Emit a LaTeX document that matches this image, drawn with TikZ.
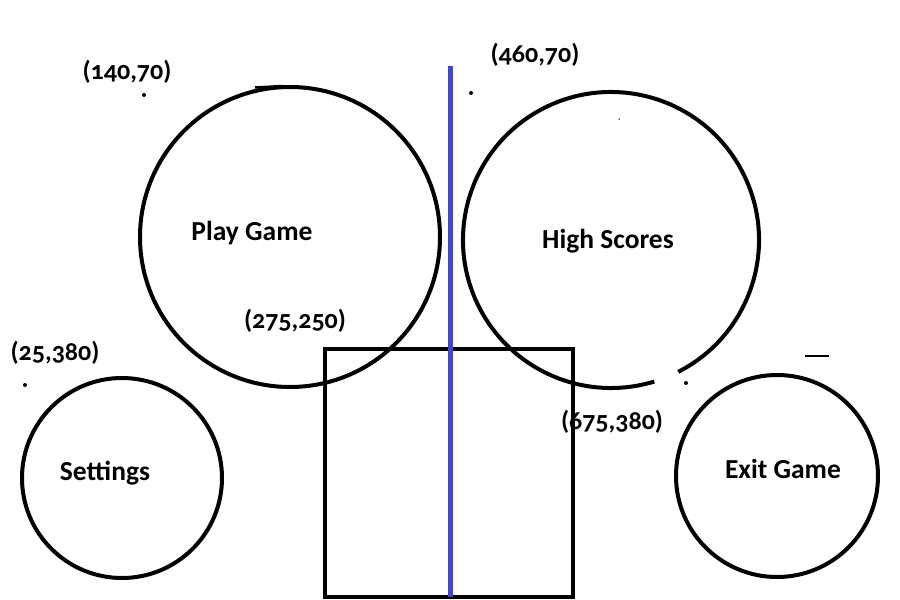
\documentclass[tikz,border=0pt]{standalone}
\usepackage{fontspec}
\setmainfont{Carlito}[Numbers=OldStyle]
\definecolor{penblue}{RGB}{65,72,205}
\begin{document}
\begin{tikzpicture}[x=1pt,y=-1pt,
  ring/.style={draw=black,line width=4pt,circle,inner sep=0pt},
  lbl/.style={font=\bfseries\fontsize{27.5}{30}\selectfont,inner sep=0pt},
  coordlbl/.style={font=\bfseries\fontsize{26}{28}\selectfont,inner sep=0pt},
  speck/.style={fill=black,circle,inner sep=0pt,minimum size=4pt}]
\useasboundingbox[fill=white] (0,0) rectangle (900,600);
% circles
\node[ring,minimum size=300pt] (play) at (290,237) {};
\draw[line width=2.5pt] (255,87.5) -- (283,86);
\draw[line width=4pt] (611,240) ++(-63:148pt) arc[start angle=-63,end angle=287,radius=148pt];
\coordinate (high) at (611,240);
\node[ring,minimum size=200pt] (set) at (122,478) {};
\node[ring,minimum size=202pt] (exit) at (777,476) {};
% square and blue line
\node[draw=black,line width=4.5pt,minimum width=248pt,minimum height=248pt,inner sep=0pt] (sq) at (449,473) {};
\coordinate (btop) at (450,66);
\coordinate (bbot) at (450,597);
\draw[penblue,line width=5pt] (btop) -- (bbot);
% labels
\node[lbl] (tplay) at (252,233) {Play Game};
\node[lbl] (thigh) at (608,241) {High Scores};
\node[lbl] (tset) at (105,473) {Settings};
\node[lbl] (texit) at (783,469) {Exit Game};
\node[coordlbl] (c1) at (127,72) {(140,70)};
\node[coordlbl] (c2) at (535,55) {(460,70)};
\node[coordlbl] (c3) at (55,353) {(25,380)};
\node[coordlbl] (c4) at (295,321) {(275,250)};
\node[coordlbl] (c5) at (612,422) {(675,380)};
% specks
\node[speck] (d1) at (144,95) {};
\node[speck] (d2) at (471,93) {};
\node[speck] (d3) at (25,385) {};
\node[speck] (d4) at (686,383) {};
\node[fill=black,circle,inner sep=0pt,minimum size=1.5pt] (d5) at (619,119) {};
\coordinate (m1) at (805,356);
\coordinate (m2) at (829,356);
\draw[line width=1.5pt] (m1) -- (m2);
\end{tikzpicture}
\end{document}
